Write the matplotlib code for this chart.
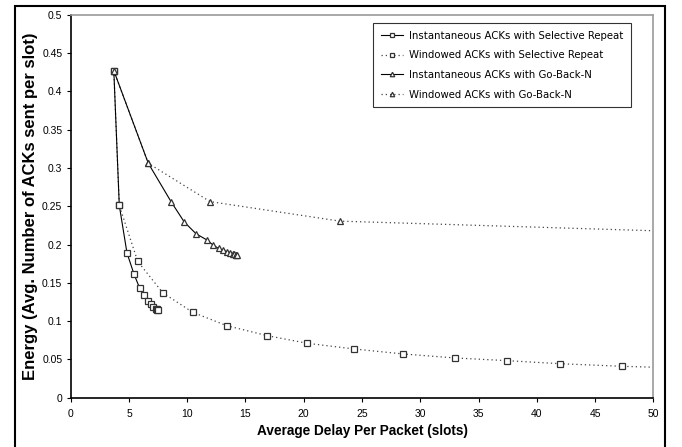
import matplotlib
matplotlib.use("Agg")
import matplotlib.pyplot as plt
from matplotlib.patches import Rectangle
from matplotlib.ticker import FixedLocator, FixedFormatter

# ---- data ----
sr_inst_x = [3.7, 4.17, 4.83, 5.44, 5.92, 6.32, 6.67, 6.9, 7.1, 7.3, 7.38, 7.43, 7.47]
sr_inst_y = [0.427, 0.251, 0.189, 0.161, 0.143, 0.134, 0.1264, 0.122, 0.1186, 0.1163, 0.1155, 0.1148, 0.1142]

sr_win_x = [3.7, 4.17, 5.75, 7.9, 10.47, 13.4, 16.86, 20.32, 24.33, 28.53, 32.97, 37.43, 41.99, 47.3, 53.0]
sr_win_y = [0.427, 0.251, 0.178, 0.137, 0.1115, 0.094, 0.081, 0.071, 0.0636, 0.0571, 0.0519, 0.0484, 0.0444, 0.041, 0.0385]

gbn_inst_x = [3.7, 6.66, 8.61, 9.74, 10.76, 11.68, 12.2, 12.69, 13.06, 13.43, 13.7, 13.9, 14.05, 14.15, 14.22, 14.27]
gbn_inst_y = [0.427, 0.306, 0.256, 0.2295, 0.214, 0.206, 0.1995, 0.1948, 0.1926, 0.1906, 0.189, 0.188, 0.187, 0.1865, 0.186, 0.1858]

gbn_win_x = [3.7, 6.66, 11.96, 23.1, 57.0]
gbn_win_y = [0.427, 0.306, 0.256, 0.2305, 0.2147]

labels = ["Instantaneous ACKs with Selective Repeat",
          "Windowed ACKs with Selective Repeat",
          "Instantaneous ACKs with Go-Back-N",
          "Windowed ACKs with Go-Back-N"]

x_ticks = [0, 5, 10, 15, 20, 25, 30, 35, 40, 45, 50]
y_ticks = [0, 0.05, 0.1, 0.15, 0.2, 0.25, 0.3, 0.35, 0.4, 0.45, 0.5]
y_tick_labels = ["0", "0.05", "0.1", "0.15", "0.2", "0.25", "0.3", "0.35", "0.4", "0.45", "0.5"]

xlabel = "Average Delay Per Packet (slots)"
ylabel = "Energy (Avg. Number of ACKs sent per slot)"

# ---- plot ----
plt.rcParams['font.family'] = ['Liberation Sans', 'DejaVu Sans']
W, H = 682, 447
fig = plt.figure(figsize=(W / 100, H / 100), dpi=100)
ax = fig.add_axes([70.7 / W, 1 - 397.7 / H, (653.3 - 70.7) / W, (397.7 - 14.7) / H])

solid_kw = dict(color="black", linewidth=0.8, markerfacecolor="white",
                markeredgecolor="#333333", markeredgewidth=0.9, markersize=4.3)
dot_kw = dict(color="#444444", linewidth=0.9, linestyle=(0, (1, 2.4)),
              markerfacecolor="white", markeredgecolor="#333333",
              markeredgewidth=0.9, markersize=4.3)

ax.plot(sr_win_x, sr_win_y, marker="s", label=labels[1], **dot_kw)
ax.plot(gbn_win_x, gbn_win_y, marker="^", label=labels[3], **dot_kw)
ax.plot(sr_inst_x, sr_inst_y, marker="s", label=labels[0], **solid_kw)
ax.plot(gbn_inst_x, gbn_inst_y, marker="^", label=labels[2], **solid_kw)

ax.set_xlim(0, 50)
ax.set_ylim(0, 0.5)
ax.xaxis.set_major_locator(FixedLocator(x_ticks))
ax.yaxis.set_major_locator(FixedLocator(y_ticks))
ax.yaxis.set_major_formatter(FixedFormatter(y_tick_labels))
ax.tick_params(axis="both", direction="out", length=3, width=0.8,
               labelsize=7.5, colors="black", pad=3)
ax.tick_params(axis="x", pad=5)

for s in ("top", "right"):
    ax.spines[s].set_color("#9a9a9a")
    ax.spines[s].set_linewidth(1.2)
for s in ("left", "bottom"):
    ax.spines[s].set_color("black")
    ax.spines[s].set_linewidth(1.2)

ax.set_xlabel(xlabel, fontsize=9.8, fontweight="bold", labelpad=4)
ax.set_ylabel(ylabel, fontsize=12, fontweight="bold", labelpad=3)

handles, labs = ax.get_legend_handles_labels()
order = [labs.index(l) for l in labels]
leg = ax.legend([handles[i] for i in order], [labs[i] for i in order],
                loc="upper left", bbox_to_anchor=(373 / W, 1 - 23 / H),
                bbox_transform=fig.transFigure, borderaxespad=0,
                fancybox=False, frameon=True, edgecolor="black",
                prop={"family": "DejaVu Sans", "size": 7.3},
                handlelength=2.2, handletextpad=0.6,
                labelspacing=0.95, borderpad=0.75, markerscale=0.75)
leg.get_frame().set_linewidth(0.8)

# outer border box
fig.patches.append(Rectangle((15 / W, -0.2), (665 - 15) / W, 1 - 6 / H + 0.2,
                             transform=fig.transFigure, fill=False,
                             edgecolor="black", linewidth=1.5, clip_on=False))

fig.savefig("out.png", dpi=100)
